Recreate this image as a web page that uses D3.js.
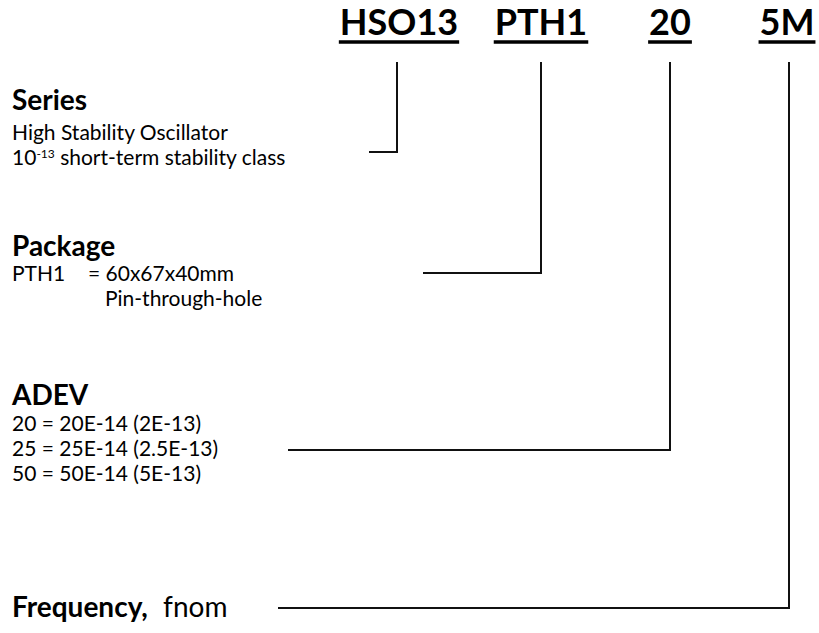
<!DOCTYPE html>
<html>
<head>
<meta charset="utf-8">
<script src="https://cdn.jsdelivr.net/npm/d3@7"></script>
<style>
  body { margin: 0; background: #fff; }
  svg { display: block; font-family: Lato, "Open Sans", sans-serif; }
</style>
</head>
<body>
<script>
// part number fields, left to right
const codes = ["HSO13", "PTH1", "20", "5M"];
const headings = ["Series", "Package", "ADEV", "Frequency,"];
const seriesLines = ["High Stability Oscillator", "short-term stability class"];
const packageLines = ["PTH1", "= 60x67x40mm", "Pin-through-hole"];
const adevLines = ["20 = 20E-14 (2E-13)", "25 = 25E-14 (2.5E-13)", "50 = 50E-14 (5E-13)"];
const freqNote = "fnom";

const width = 819, height = 633;
const svg = d3.select("body").append("svg")
  .attr("width", width)
  .attr("height", height);

// layout: centre x of each code, its connector x, and where the connector ends
const codeX = [399, 541, 670, 787];
const connX = [397, 541, 670, 789];
const connY = [152, 273, 450, 608];
const connStartX = [369, 423, 288, 278];

// codes with underline
const header = svg.append("g");
codes.forEach((c, i) => {
  const t = header.append("text")
    .attr("x", codeX[i])
    .attr("y", 35)
    .attr("text-anchor", "middle")
    .attr("font-weight", "bold")
    .attr("font-size", 36)
    .text(c);
  const w = t.node().getComputedTextLength();
  header.append("line")
    .attr("x1", codeX[i] - w / 2 - 1)
    .attr("x2", codeX[i] + w / 2 + 1)
    .attr("y1", 42).attr("y2", 42)
    .attr("stroke", "#000")
    .attr("stroke-width", 3.5);
});

// connectors
const line = d3.line();
const conn = svg.append("g");
codes.forEach((c, i) => {
  conn.append("path")
    .attr("d", line([[connX[i], 62], [connX[i], connY[i]], [connStartX[i], connY[i]]]))
    .attr("fill", "none")
    .attr("stroke", "#111")
    .attr("stroke-width", 2);
});

const body = svg.append("g").attr("font-size", 21).attr("fill", "#000");

function heading(txt, x, y) {
  return body.append("text").attr("x", x).attr("y", y)
    .attr("font-weight", "bold").attr("font-size", 28).text(txt);
}
function plain(txt, x, y) {
  return body.append("text").attr("x", x).attr("y", y).text(txt);
}

// Series
heading(headings[0], 12, 110);
plain(seriesLines[0], 12, 140);
const pw = body.append("text").attr("x", 12).attr("y", 165);
pw.append("tspan").text("10");
pw.append("tspan").attr("font-size", 12).attr("dy", -7).text("-13");
pw.append("tspan").attr("dy", 7).text(" " + seriesLines[1]);

// Package
heading(headings[1], 12, 256);
plain(packageLines[0], 12, 281);
plain(packageLines[1], 88, 281);
plain(packageLines[2], 105, 306);

// ADEV
heading(headings[2], 12, 405);
adevLines.forEach((l, i) => plain(l, 12, 431 + i * 25));

// Frequency
const f = heading(headings[3], 12, 617);
f.append("tspan").attr("font-weight", "normal").attr("dx", 8).text(" " + freqNote);
</script>
</body>
</html>
